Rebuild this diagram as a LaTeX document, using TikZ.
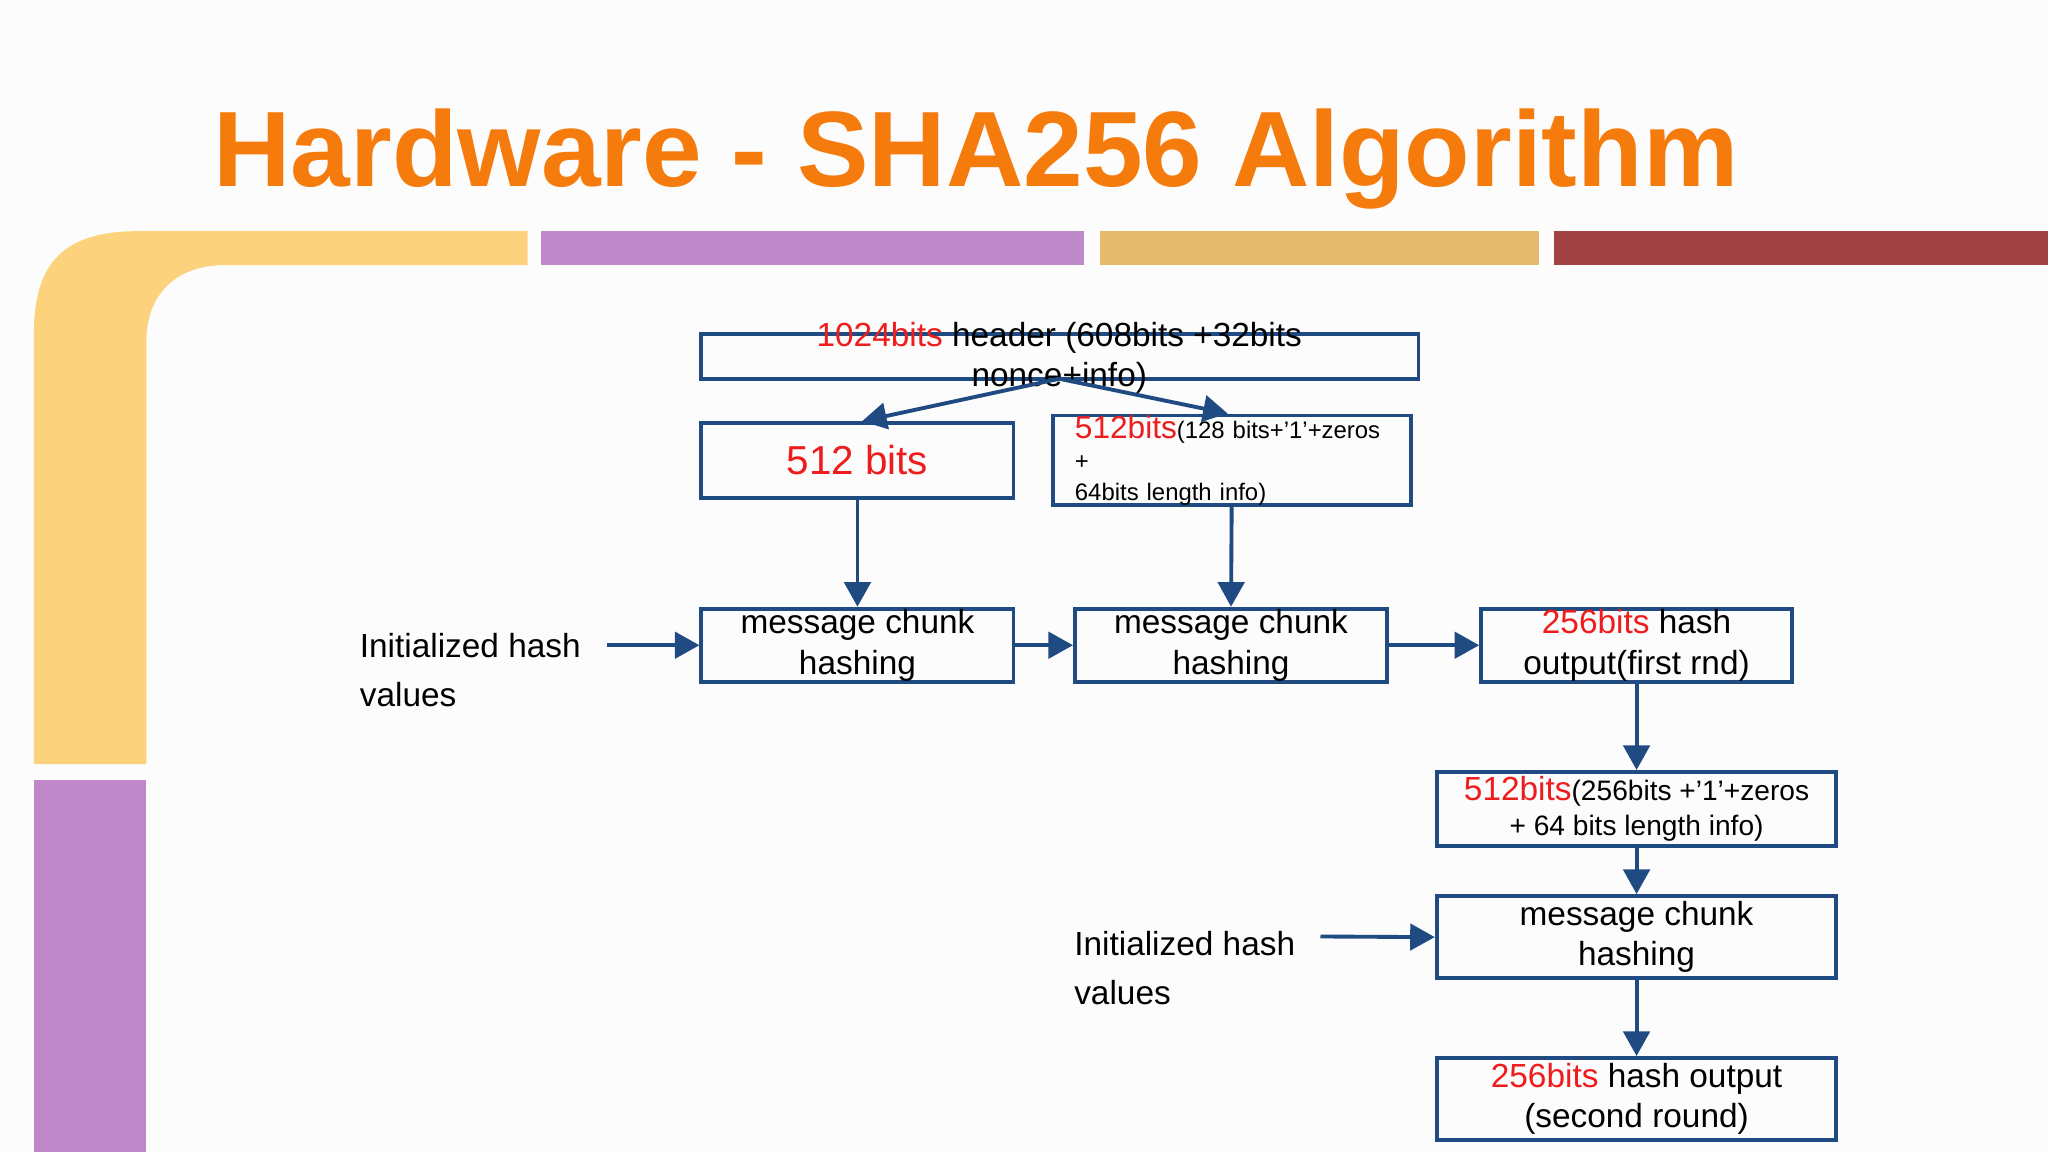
\documentclass[tikz,border=0pt]{standalone}
\usepackage{fontspec}
\setmainfont{Liberation Sans}
\usetikzlibrary{arrows.meta}
\definecolor{ttl}{HTML}{F57C0C}
\definecolor{byel}{HTML}{FDD27C}
\definecolor{bpur}{HTML}{BF88C8}
\definecolor{btan}{HTML}{E6BA6E}
\definecolor{bred}{HTML}{A24242}
\definecolor{bx}{HTML}{1F4A82}
\definecolor{rd}{HTML}{EE1C1C}
\tikzset{
 box/.style={draw=bx,line width=1.1pt,inner sep=0pt},
 lbl/.style={font=\fontsize{9.5pt}{11.5pt}\selectfont,align=center},
 conn/.style={draw=bx,line width=1.1pt,-{Triangle[length=7pt,width=7.5pt]}}
}
\begin{document}
\begin{tikzpicture}[x=0.013061cm,y=-0.013061cm]
\useasboundingbox (0,0) rectangle (1568,882);
\fill[white!98!gray] (0,0) rectangle (1568,882);
\node[anchor=base west,text=ttl,font=\fontsize{30.5pt}{34pt}\selectfont\bfseries,inner sep=0pt] (title) at (163,143) {Hardware - SHA256 Algorithm};
% bars
\fill[byel] (26,585) -- (26,255) .. controls (26,200) and (50,177) .. (106,177) -- (404,177) -- (404,203) -- (172,203) .. controls (135,203) and (112,225) .. (112,262) -- (112,585) -- cycle;
\fill[bpur] (414,177) rectangle (830,203);
\fill[btan] (842,177) rectangle (1178,203);
\fill[bred] (1190,177) rectangle (1568,203);
\fill[bpur] (26,597) rectangle (112,882);
% boxes
\draw[box] (537,256) rectangle (1086,290);
\coordinate (Atop) at (811,256);
\coordinate (Abot) at (811,290);
\node[lbl,text=black] (Atxt) at (811,274) {\textcolor{rd}{1024bits} header (608bits +32bits\\nonce+info)};
\node[box,minimum width={239*0.013061cm},minimum height={57*0.013061cm},text=rd,font=\fontsize{11.5pt}{13pt}\selectfont] (B) at (656.5,352.5) {512 bits};
\node[box,minimum width={274*0.013061cm},minimum height={57*0.013061cm},align=left,font=\fontsize{6.8pt}{8.8pt}\selectfont,text width={240*0.013061cm}] (C) at (943,352.5) {{\fontsize{9pt}{9pt}\selectfont\textcolor{rd}{512bits}}(128 bits+'1'+zeros +\\64bits length info)};
\node[box,lbl,minimum width={239*0.013061cm},minimum height={56*0.013061cm}] (D) at (656.5,494) {message chunk\\hashing};
\node[box,lbl,minimum width={239*0.013061cm},minimum height={56*0.013061cm}] (E) at (942.5,494) {message chunk\\hashing};
\node[box,lbl,minimum width={238*0.013061cm},minimum height={56*0.013061cm}] (F) at (1253,494) {\textcolor{rd}{256bits} hash\\output(first rnd)};
\node[box,lbl,minimum width={306*0.013061cm},minimum height={57*0.013061cm},font=\fontsize{8pt}{10pt}\selectfont] (G) at (1253,619.5) {{\fontsize{9.5pt}{9.5pt}\selectfont\textcolor{rd}{512bits}}(256bits +'1'+zeros\\+ 64 bits length info)};
\node[box,lbl,minimum width={306*0.013061cm},minimum height={63*0.013061cm}] (H) at (1253,717.5) {message chunk\\hashing};
\node[box,lbl,minimum width={306*0.013061cm},minimum height={63*0.013061cm}] (I) at (1253,841.5) {\textcolor{rd}{256bits} hash output\\(second round)};
\node[lbl,align=left,anchor=west,font=\fontsize{9.5pt}{14pt}\selectfont] (L1) at (266,513) {Initialized hash\\values};
\node[lbl,align=left,anchor=west,font=\fontsize{9.5pt}{14pt}\selectfont] (L2) at (813,741) {Initialized hash\\values};
\coordinate (L1e) at (465,494);
\coordinate (L2e) at (1011,717);
% connectors
\draw[conn] (Abot) -- (B.north -| 660,0);
\draw[conn] (Abot) -- (C.north -| 940,0);
\draw[conn] (B.south) -- (D.north);
\draw[conn] (C.south) -- (E.north);
\draw[conn] (L1e) -- (D.west);
\draw[conn] (D.east) -- (E.west);
\draw[conn] (E.east) -- (F.west);
\draw[conn] (F.south) -- (G.north);
\draw[conn] (G.south) -- (H.north);
\draw[conn] (H.south) -- (I.north);
\draw[conn] (L2e) -- (H.west);
\end{tikzpicture}
\end{document}
